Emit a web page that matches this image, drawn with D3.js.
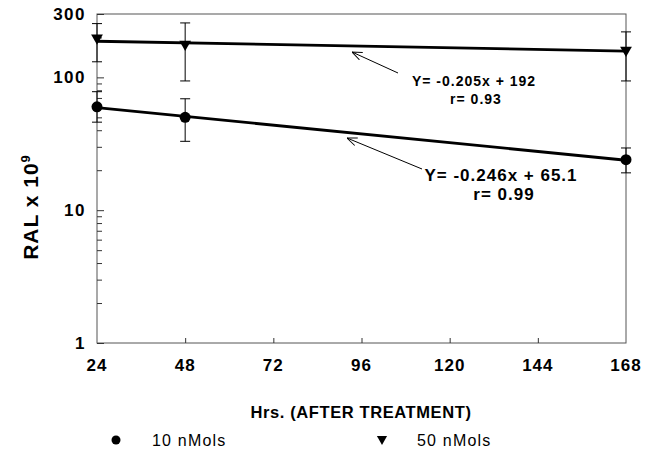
<!DOCTYPE html>
<html>
<head>
<meta charset="utf-8">
<script src="https://cdn.jsdelivr.net/npm/d3@7"></script>
<style>
body{margin:0;background:#fff;}
svg{display:block;font-family:'Liberation Sans',Arial,sans-serif;}
</style>
</head>
<body>
<svg id="chart" width="649" height="454"></svg>
<script>
// data
var hours = [24, 48, 168];
var low = {name:'10 nMols', mean:[60, 50, 24], upper:[78, 69, 29.4], lower:[46, 33, 19.1], slope:-0.246, intercept:65.1, r:0.99};
var high = {name:'50 nMols', mean:[198, 178, 160], upper:[254, 257, 220], lower:[131, 94, 94], slope:-0.205, intercept:192, r:0.93};
var xTicks = [24, 48, 72, 96, 120, 144, 168];
var yTicks = [1, 10, 100, 300];

var margin = {left:97, right:23, top:14, bottom:111};
var width = 649 - margin.left - margin.right;
var height = 454 - margin.top - margin.bottom;

var svg = d3.select('#chart');
var g = svg.append('g').attr('transform','translate('+margin.left+','+margin.top+')');

var x = d3.scaleLinear().domain([24,168]).range([0,width]);
var y = d3.scaleLog().domain([1,300]).range([height,0]);

// frame
g.append('rect').attr('width',width).attr('height',height)
	.attr('fill','none').attr('stroke','#555').attr('stroke-width',1);

// minor ticks on left axis (2..9 per decade)
var minor = [];
[1,10,100].forEach(function(d){ for(var k=2;k<=9;k++){ if(d*k<300) minor.push(d*k); } });

var yAxis = d3.axisRight(y).tickValues(yTicks).tickSize(7).tickFormat('');
g.append('g').call(yAxis).call(s=>s.select('.domain').remove());
g.append('g').call(d3.axisRight(y).tickValues(minor).tickSize(5).tickFormat(''))
	.call(s=>s.select('.domain').remove());

var xAxis = d3.axisTop(x).tickValues(xTicks.slice(1,-1)).tickSize(5).tickFormat('');
g.append('g').attr('transform','translate(0,'+height+')').call(xAxis)
	.call(s=>s.select('.domain').remove());

g.selectAll('.tick line').attr('stroke','#333');

// tick labels
g.selectAll('.ylab').data(yTicks).enter().append('text')
	.attr('x',-11).attr('y',d=>y(d)+6)
	.attr('text-anchor','end').attr('font-weight','bold').attr('font-size',17)
	.attr('letter-spacing',1.5)
	.text(d=>d);
g.selectAll('.xlab').data(xTicks).enter().append('text')
	.attr('x',d=>x(d)).attr('y',height+28)
	.attr('text-anchor','middle').attr('font-weight','bold').attr('font-size',17)
	.attr('letter-spacing',1)
	.text(d=>d);

// axis titles
svg.append('text').attr('x',361).attr('y',418).attr('text-anchor','middle')
	.attr('font-weight','bold').attr('font-size',16.5).attr('letter-spacing',0.6).text('Hrs. (AFTER TREATMENT)');
var yt = svg.append('text').attr('transform','translate(38,207) rotate(-90)')
	.attr('text-anchor','middle').attr('font-weight','bold').attr('font-size',21).attr('letter-spacing',1);
yt.append('tspan').text('RAL x 10');
yt.append('tspan').attr('dy',-8).attr('font-size',13).text('9');

// fit lines, error bars, markers
var tri = d3.symbol().type(d3.symbolTriangle).size(60);
[low, high].forEach(function(s){
	var fit = [24,168].map(h=>[x(h), y(s.slope*h+s.intercept)]);
	g.append('path').attr('d',d3.line()(fit)).attr('stroke','#000').attr('stroke-width',2.8).attr('fill','none');

	var pts = hours.map((h,i)=>({h:h, m:s.mean[i], u:s.upper[i], l:s.lower[i]}));
	var eb = g.append('g').attr('stroke','#000').attr('stroke-width',1);
	eb.selectAll('.v').data(pts).enter().append('line')
		.attr('x1',d=>x(d.h)).attr('x2',d=>x(d.h)).attr('y1',d=>y(d.u)).attr('y2',d=>y(d.l));
	eb.selectAll('.cu').data(pts).enter().append('line')
		.attr('x1',d=>x(d.h)-5).attr('x2',d=>x(d.h)+5).attr('y1',d=>y(d.u)).attr('y2',d=>y(d.u));
	eb.selectAll('.cl').data(pts).enter().append('line')
		.attr('x1',d=>x(d.h)-5).attr('x2',d=>x(d.h)+5).attr('y1',d=>y(d.l)).attr('y2',d=>y(d.l));

	if(s===low){
		g.selectAll('.c').data(pts).enter().append('circle')
			.attr('cx',d=>x(d.h)).attr('cy',d=>y(d.m)).attr('r',5.5).attr('fill','#000');
	} else {
		g.selectAll('.t').data(pts).enter().append('path')
			.attr('d',tri).attr('transform',d=>'translate('+x(d.h)+','+y(d.m)+') rotate(180)').attr('fill','#000');
	}
});

// annotations
svg.append('defs').append('marker').attr('id','arr').attr('viewBox','0 0 10 10')
	.attr('refX',10).attr('refY',5).attr('markerWidth',10).attr('markerHeight',10)
	.attr('orient','auto').attr('markerUnits','userSpaceOnUse')
	.append('path').attr('d','M0,1 L10,5 L0,9').attr('fill','none').attr('stroke','#000').attr('stroke-width',1);

svg.append('line').attr('x1',398).attr('y1',73).attr('x2',352).attr('y2',52)
	.attr('stroke','#000').attr('stroke-width',1).attr('marker-end','url(#arr)');
svg.append('line').attr('x1',422).attr('y1',169).attr('x2',347).attr('y2',138)
	.attr('stroke','#000').attr('stroke-width',1).attr('marker-end','url(#arr)');

function eq(s){ return 'Y= '+s.slope.toFixed(3)+'x + '+s.intercept; }
svg.append('text').attr('x',474).attr('y',86).attr('text-anchor','middle')
	.attr('font-weight','bold').attr('font-size',14).attr('letter-spacing',1).text(eq(high));
svg.append('text').attr('x',476).attr('y',104).attr('text-anchor','middle')
	.attr('font-weight','bold').attr('font-size',14).attr('letter-spacing',1).text('r= '+high.r);
svg.append('text').attr('x',501).attr('y',181).attr('text-anchor','middle')
	.attr('font-weight','bold').attr('font-size',17).attr('letter-spacing',1).text(eq(low));
svg.append('text').attr('x',504).attr('y',200).attr('text-anchor','middle')
	.attr('font-weight','bold').attr('font-size',17).attr('letter-spacing',1).text('r= '+low.r);

// legend
var leg = svg.append('g');
leg.append('circle').attr('cx',116).attr('cy',440).attr('r',4.5).attr('fill','#000');
leg.append('text').attr('x',152).attr('y',446).attr('font-size',16).attr('letter-spacing',1.2).text(low.name);
leg.append('path').attr('d',d3.symbol().type(d3.symbolTriangle).size(45))
	.attr('transform','translate(382,439) rotate(180)').attr('fill','#000');
leg.append('text').attr('x',417).attr('y',446).attr('font-size',16).attr('letter-spacing',1.2).text(high.name);
</script>
</body>
</html>
